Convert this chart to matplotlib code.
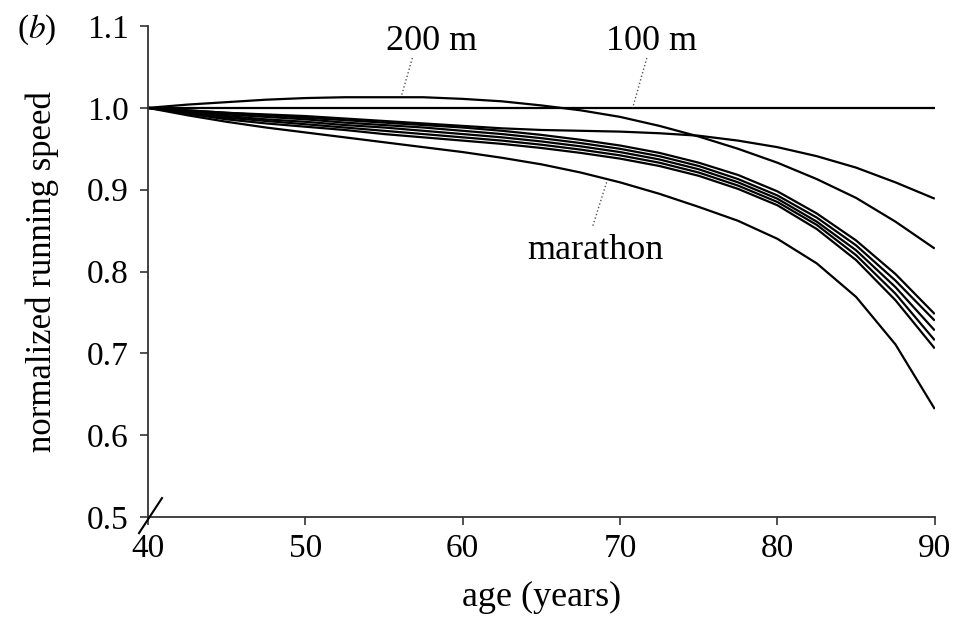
import matplotlib.pyplot as plt

plt.rcParams['font.family'] = ['Liberation Serif', 'DejaVu Serif']
plt.rcParams['mathtext.fontset'] = 'stix'

ages = [40, 42.5, 45, 47.5, 50, 52.5, 55, 57.5, 60, 62.5, 65,
        67.5, 70, 72.5, 75, 77.5, 80, 82.5, 85, 87.5, 90]

# normalized running speed, one list per event
v_100m = [1.0] * len(ages)
v_200m = [1.000, 1.004, 1.007, 1.010, 1.012, 1.013, 1.013, 1.013, 1.011, 1.008, 1.003,
          0.997, 0.989, 0.978, 0.965, 0.950, 0.933, 0.913, 0.890, 0.861, 0.828]
v_400m = [1.000, 0.997, 0.994, 0.992, 0.990, 0.987, 0.984, 0.981, 0.978, 0.975, 0.973,
          0.972, 0.971, 0.969, 0.966, 0.960, 0.952, 0.941, 0.927, 0.909, 0.889]
v_800m = [1.000, 0.997, 0.994, 0.991, 0.988, 0.985, 0.982, 0.979, 0.976, 0.972, 0.967,
          0.961, 0.954, 0.945, 0.933, 0.918, 0.898, 0.871, 0.838, 0.797, 0.748]
v_1500m = [1.000, 0.996, 0.992, 0.989, 0.986, 0.982, 0.979, 0.976, 0.972, 0.968, 0.963,
           0.957, 0.950, 0.941, 0.929, 0.913, 0.893, 0.866, 0.832, 0.789, 0.740]
v_5k = [1.000, 0.995, 0.990, 0.986, 0.983, 0.979, 0.976, 0.972, 0.968, 0.964, 0.959,
        0.953, 0.946, 0.937, 0.925, 0.909, 0.889, 0.861, 0.826, 0.781, 0.728]
v_10k = [1.000, 0.994, 0.988, 0.984, 0.980, 0.976, 0.972, 0.968, 0.964, 0.960, 0.955,
         0.949, 0.942, 0.933, 0.921, 0.905, 0.885, 0.857, 0.820, 0.773, 0.716]
v_half = [1.000, 0.993, 0.986, 0.981, 0.977, 0.973, 0.968, 0.964, 0.960, 0.956, 0.951,
          0.945, 0.938, 0.929, 0.917, 0.901, 0.881, 0.852, 0.814, 0.765, 0.706]
v_marathon = [1.000, 0.991, 0.983, 0.976, 0.970, 0.964, 0.958, 0.952, 0.946, 0.939, 0.931,
              0.921, 0.909, 0.895, 0.879, 0.862, 0.840, 0.810, 0.769, 0.711, 0.632]

series = [v_100m, v_200m, v_400m, v_800m, v_1500m, v_5k, v_10k, v_half, v_marathon]

fig = plt.figure(figsize=(9.56, 6.2), dpi=100)
ax = fig.add_axes([0.1548, 0.166, 0.823, 0.792])

for s in series:
    ax.plot(ages, s, color='black', lw=1.6, solid_capstyle='butt')

ax.set_xlim(40, 90)
ax.set_ylim(0.5, 1.1)
ax.set_xticks([40, 50, 60, 70, 80, 90])
ax.set_yticks([0.5, 0.6, 0.7, 0.8, 0.9, 1.0, 1.1])
ax.set_yticklabels(['0.5', '0.6', '0.7', '0.8', '0.9', '1.0', '1.1'])

for side in ['top', 'right']:
    ax.spines[side].set_visible(False)
for side in ['left', 'bottom']:
    ax.spines[side].set_linewidth(1.3)
    ax.spines[side].set_color('#333333')

ax.tick_params(axis='both', direction='out', length=6, width=1.2, color='#333333', labelsize=24)
ax.tick_params(axis='y', pad=8)
ax.tick_params(axis='x', pad=6)

ax.set_xlabel('age (years)', fontsize=26, labelpad=12)
ax.set_ylabel('normalized running speed', fontsize=25, labelpad=20)

# event labels with dotted leader lines
ax.text(58.0, 1.081, '200 m', fontsize=26, ha='center', va='center')
ax.plot([56.8, 56.1], [1.061, 1.014], color='#555555', lw=1.0, ls=':')
ax.text(72.0, 1.081, '100 m', fontsize=26, ha='center', va='center')
ax.plot([71.7, 70.8], [1.061, 1.0], color='#555555', lw=1.0, ls=':')
ax.text(68.4, 0.826, 'marathon', fontsize=26, ha='center', va='center')
ax.plot([68.27, 69.16], [0.856, 0.910], color='#555555', lw=1.0, ls=':')

# axis break mark at the origin
ax.plot([-0.0114, 0.0178], [-0.0326, 0.0387], transform=ax.transAxes,
        color='black', lw=1.5, clip_on=False, zorder=5)

fig.text(0.038, 0.952, r'($\mathit{b}$)', fontsize=24, ha='center', va='center')

fig.savefig('out.png', dpi=100)
